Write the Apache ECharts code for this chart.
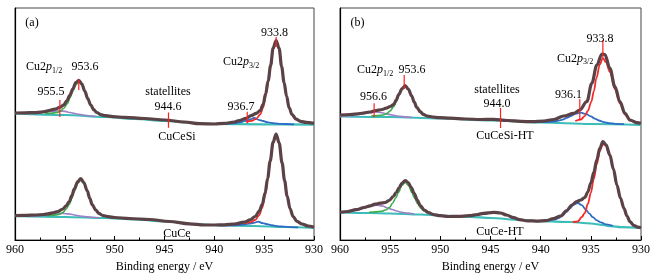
<!DOCTYPE html>
<html>
<head>
<meta charset="utf-8">
<script src="https://cdn.jsdelivr.net/npm/echarts/dist/echarts.min.js"></script>
<style>
  html, body { margin: 0; padding: 0; background: #fff; }
  #main { width: 655px; height: 280px; }
</style>
</head>
<body>
<div id="main"></div>
<script>
// x = binding energy (eV), y = intensity (a.u., spectra stacked)
// panel (a), upper spectrum: CuCeSi
const aSiBg = [[960,126.5],[955,125],[951,123],[948,121],[945,119],[942,117],[940,116],[935,115.7],[930,115.3]];
const aSiEnv = [[960,127],[959,127.2],[958,127.4],[957.4,127.9],[957,128.5],[956.6,129.5],[956,130.8],[955.5,132.6],[955.1,135.2],[954.8,139.2],[954.5,144.6],[954.2,151],[953.9,157.4],[953.6,159.7],[953.3,156.2],[953,149],[952.7,141.3],[952.4,135],[952.1,130.3],[951.8,127.5],[951.4,125.4],[950.9,124.3],[950.2,123.4],[949,122.6],[947,121.5],[945,120],[943,118],[941.5,116.3],[940,116],[939,116.6],[938,118],[937.5,119.5],[936.8,121.7],[936.25,124.6],[935.8,126.6],[935.4,129.5],[935.1,135.6],[934.85,146.3],[934.6,159.2],[934.35,174.6],[934.1,192],[933.8,199.5],[933.5,191.6],[933.25,173.5],[933,157.5],[932.75,143.8],[932.5,132.3],[932.2,125.4],[931.8,120.9],[931.35,118.7],[930.8,117.6],[930,116.7]];
const aSiRed = [[936.8,118.1],[936.25,119.1],[935.8,121.2],[935.4,125.5],[935.1,132.3],[934.85,143.8],[934.6,157.3],[934.35,173.2],[934.1,191],[933.8,198.7],[933.5,191],[933.25,173.1],[933,157.2],[932.75,143.6],[932.5,132.1],[932.2,125.3],[931.8,120.9],[931.35,118.7],[930.8,117.6],[930,116.7]];
const aSiBlue = [[940,116.2],[939.2,116.2],[938.6,116.3],[938.1,116.7],[937.7,117.2],[937.3,118],[936.9,119.05],[936.45,120.3],[936,122.2],[935.55,120.2],[935.1,119],[934.7,117.9],[934.3,117.1],[933.85,116.6],[933.4,116.2],[932.8,116],[932,115.7]];
const aSiGreen = [[957,126.5],[956.35,126.8],[955.8,127.5],[955.4,129.1],[955.1,131.8],[954.75,136.4],[954.5,141.75],[954.25,148.1],[953.9,155.3],[953.6,158.3],[953.3,155],[952.95,147.5],[952.7,140.85],[952.45,135.2],[952.1,130.35],[951.8,127.4],[951.4,125.4],[950.85,124.3],[950.2,123.4]];
const aSiPurple = [[959.2,126.4],[958.5,126.5],[958,126.7],[957.45,127.1],[957,127.6],[956.55,128.2],[956,128.9],[955.5,129.15],[955,128.6],[954.45,127.5],[954,126.5],[953.55,125.6],[953,124.8],[952.5,124.2],[951.8,123.5]];

// panel (a), lower spectrum: CuCe
const aBg = [[960,24],[955,23],[951,22],[948,20.5],[945,18.5],[942,16],[939,14.5],[936,14],[933,13],[930,12]];
const aEnv = [[960,24.3],[959,24.6],[958,25],[957.1,25.5],[956.7,26.2],[956.25,27.1],[955.7,28.5],[955.2,31],[954.9,33.8],[954.55,38.5],[954.3,44.3],[954.05,51.1],[953.7,58.4],[953.4,61.4],[953.1,57.5],[952.75,49.1],[952.5,41.7],[952.25,35.3],[951.9,30],[951.6,26.7],[951.2,24.5],[950.65,23.3],[950,22.5],[948.5,21.5],[946.5,20.5],[944.5,18.5],[942.5,16.2],[941,15],[940,15],[939,15.2],[938,16],[937,17.8],[936.4,20.2],[935.9,23.5],[935.5,28.8],[935.2,35.3],[934.9,47.2],[934.65,61.7],[934.4,78.9],[934.1,98],[933.8,106],[933.5,97.2],[933.2,77.2],[932.95,59.3],[932.7,44.1],[932.4,31.2],[932.1,23.5],[931.7,18.6],[931.2,16],[930.6,14],[930,12.8]];
const aRed = [[937,16.7],[936.4,17.7],[935.9,20],[935.5,24.7],[935.2,32.1],[934.9,44.7],[934.65,59.6],[934.4,77.2],[934.1,96.8],[933.8,105.3],[933.5,96.6],[933.2,76.8],[932.95,59],[932.7,43.9],[932.4,31.1],[932.1,23.5],[931.7,18.6],[931.2,16],[930.6,14],[930,12.8]];
const aBlue = [[939.6,14.7],[938.8,14.6],[938.2,14.65],[937.75,14.8],[937.3,15.1],[936.9,15.65],[936.5,16.35],[936.05,17.1],[935.6,18.4],[935.15,16.8],[934.7,15.8],[934.3,14.95],[933.9,14.2],[933.45,13.7],[933,13.3],[932.4,12.9],[931.6,12.6]];
const aGreen = [[956.8,24.4],[956.15,24.7],[955.6,25.5],[955.2,27.45],[954.9,30.5],[954.55,35.5],[954.3,41.6],[954.05,48.7],[953.7,56.7],[953.4,60.1],[953.1,56.5],[952.75,48.4],[952.5,41.1],[952.25,34.9],[951.9,29.7],[951.6,26.55],[951.2,24.45],[950.65,23.3],[950,22.5]];
const aPurple = [[958.9,23.9],[958.2,24.05],[957.7,24.23],[957.15,24.6],[956.7,25.1],[956.25,25.67],[955.75,26.3],[955.2,26.55],[954.65,26.1],[954.15,25.2],[953.7,24.4],[953.25,23.75],[952.75,23.1],[952.2,22.7],[951.5,22.2]];

// panel (b), upper spectrum: CuCeSi-HT
const bSiBg = [[960,123.5],[955,123],[950,121.5],[945,119.5],[940,117.5],[935,116],[930,115]];
const bSiEnv = [[960,125],[959,125.5],[958,126.5],[957,128],[956.4,129.5],[955.8,130.5],[955.4,131.8],[955,133.5],[954.65,135.5],[954.4,139.8],[954.15,145.4],[953.8,151.5],[953.5,154.5],[953.2,151],[952.85,144],[952.6,137.9],[952.35,132.7],[952,128.3],[951.7,125.6],[951.3,123.9],[950.75,123],[950.1,122.3],[949,121.8],[947.5,121],[946,120.5],[944.7,120.7],[943.3,119.5],[942,118.6],[940.8,118.3],[939.7,119],[938.7,120.5],[937.7,124],[936.7,126.7],[936.1,130],[935.4,138.3],[934.9,156.7],[934.4,175],[933.9,186],[933.6,185.5],[933.1,171.7],[932.6,153.3],[932.1,138.3],[931.6,126.7],[931.1,120],[930.4,117.3],[930,116.7]];
const bSiRed = [[936.55,119],[936,120.5],[935.6,123.8],[935.3,129.1],[934.95,138.15],[934.7,148.9],[934.45,161.55],[934.1,175.6],[933.8,182],[933.5,178],[933.1,168],[932.6,151],[932.1,136.5],[931.6,125.5],[931.1,119.5],[930.4,117]];
const bSiBlue = [[940.3,118],[939.45,118],[938.8,118.3],[938.3,119.1],[937.8,120.4],[937.4,122.05],[937,124],[936.5,126.3],[936,127.3],[935.5,126.1],[935,123.6],[934.6,121.4],[934.2,119.5],[933.7,117.9],[933.2,116.9],[932.55,116.2],[931.7,115.8]];
const bSiGreen = [[956.9,124],[956.25,124.35],[955.7,125.05],[955.3,126.66],[955,129.16],[954.65,133.35],[954.4,138.3],[954.15,144.2],[953.8,150.75],[953.5,153.55],[953.2,150.55],[952.85,143.8],[952.6,137.8],[952.35,132.65],[952,128.3],[951.7,125.6],[951.3,123.9],[950.75,122.95],[950.1,122.3]];
const bSiPurple = [[960,123.65],[959.5,124],[958.95,124.35],[958.45,124.94],[958,125.7],[957.55,126.56],[957,127.55],[956.5,127.95],[955.95,127.45],[955.45,126.34],[955,125.4],[954.55,124.47],[954,123.65],[953.5,123.1],[952.8,122.46]];

// panel (b), lower spectrum: CuCe-HT
const bBg = [[960,27.5],[957,27],[955,26.5],[952,25.5],[950,24.5],[947,23.2],[945,22],[942,20],[940,18.8],[937,18],[935,16.5],[933.8,15],[933,13.8],[932,12.8],[930,12]];
const bEnv = [[960,27.7],[959.2,28.5],[958.4,30.3],[957.6,32.5],[957,34.2],[956.5,35.8],[956,36.8],[955.5,37.5],[955.1,39.5],[954.7,43.5],[954.4,47.5],[954.1,52.5],[953.8,57],[953.5,59.5],[953.2,57.5],[952.9,52.5],[952.6,46.5],[952.3,40],[952,34.5],[951.6,30],[951.2,27.5],[950.7,25.5],[950,24.3],[949.2,23.5],[948.2,23.6],[947.1,24.3],[946.3,25.5],[945.7,26.7],[944.7,27.7],[944,27],[943.4,25],[942.7,22.3],[942.1,20.3],[941.3,19.2],[940.4,18.9],[939.5,19.3],[938.7,21.5],[938,24],[937.4,29.5],[936.9,35],[936.4,38.5],[936,40],[935.6,42.5],[935.3,48],[935,57],[934.7,68],[934.4,80.5],[934.1,92],[933.8,98.3],[933.5,95.5],[933.1,85],[932.75,71],[932.4,55],[932.05,42],[931.7,31.7],[931.4,24],[931.1,18.3],[930.7,14.5],[930.3,12.8],[930,12.3]];
const bRed = [[936.8,18],[936.3,18.5],[935.9,23],[935.6,27],[935.3,36],[935,47],[934.7,61],[934.4,76],[934.1,89],[933.8,96],[933.5,94.2],[933.1,84],[932.75,70.5],[932.4,54.6],[932.05,41.8],[931.7,31.6],[931.4,24],[931.1,18.3],[930.7,14.5],[930.3,12.8],[930,12.3]];
const bBlue = [[939.8,19.2],[939.15,19.6],[938.6,20.5],[938.2,22],[937.8,24.8],[937.45,27.8],[937.1,31.5],[936.7,35.5],[936.3,37],[935.9,34.9],[935.5,30.4],[935.15,26.35],[934.8,22.8],[934.4,19.65],[934,17.55],[933.45,15.6],[932.8,14.1]];
const bGreen = [[957.1,27.8],[956.4,28.1],[955.85,28.75],[955.4,30.3],[955.05,32.8],[954.75,37],[954.45,42.05],[954.15,48],[953.85,54.6],[953.5,57.5],[953.15,54.4],[952.85,47.55],[952.55,41.45],[952.25,36.2],[951.95,31.75],[951.6,29],[951.15,27.15],[950.6,25.2],[949.9,24.6]];
const bPurple = [[960,27.7],[959.3,28.3],[958.75,28.9],[958.25,29.9],[957.8,31.15],[957.35,32.55],[956.85,34.2],[956.3,34.8],[955.75,33.95],[955.25,32.05],[954.8,30.45],[954.35,29],[953.85,27.7],[953.3,26.9],[952.6,25.9]];

// red marker ticks: [energy, top, bottom]
const ticksA = [[955.5,140,123],[953.6,160.5,150],[944.6,127.5,112.3],[936.7,128.3,116.7],[933.8,203,193]];
const ticksB = [[956.6,136.7,122.7],[953.6,165,151],[944.0,132,112],[936.1,141,120],[933.8,200,183]];

const energyTicks = [960, 955, 950, 945, 940, 935, 930];
const xTitle = 'Binding energy / eV';
const samplesA = ['CuCeSi', 'CuCe'];
const samplesB = ['CuCeSi-HT', 'CuCe-HT'];
const peaksA = ['955.5', '953.6', '944.6', '936.7', '933.8'];
const peaksB = ['956.6', '953.6', '944.0', '936.1', '933.8'];

const FONT = '"Liberation Serif", "Times New Roman", serif';
const C = {
  env: '#5b4246', red: '#f22a2a', blue: '#2e6cc4', green: '#3dae4a',
  purple: '#9c82c6', bg: '#3dbdb9', tick: '#ff2020'
};

var chart = echarts.init(document.getElementById('main'), null, { renderer: 'canvas' });

function line(data, color, width, idx, z) {
  return {
    type: 'line', xAxisIndex: idx, yAxisIndex: idx, data: data,
    showSymbol: false, symbol: 'none', smooth: 0.35, smoothMonotone: 'x',
    lineStyle: { color: color, width: width }, z: z, silent: true, animation: false
  };
}

function spectrum(s, idx) {
  return [
    line(s.bg, C.bg, 2.2, idx, 2),
    line(s.purple, C.purple, 1.6, idx, 3),
    line(s.green, C.green, 1.6, idx, 3),
    line(s.blue, C.blue, 1.8, idx, 3),
    line(s.red, C.red, 1.8, idx, 3),
    line(s.env, C.env, 3.2, idx, 4)
  ];
}

function tickSeries(ticks, idx) {
  return ticks.map(t => line([[t[0], t[1]], [t[0], t[2]]], C.tick, 1.2, idx, 6));
}

function xAxis(idx) {
  return {
    gridIndex: idx, type: 'value', min: 930, max: 960, interval: 5, inverse: true,
    axisLine: { show: true, onZero: false, lineStyle: { color: '#000', width: 1.2 } },
    axisTick: { show: true, inside: true, length: 4, lineStyle: { color: '#000' } },
    minorTick: { show: true, splitNumber: 2, length: 2.5, lineStyle: { color: '#000' } },
    axisLabel: { color: '#000', fontFamily: FONT, fontSize: 12, margin: 4,
      formatter: v => energyTicks.indexOf(v) >= 0 ? String(v) : '' },
    splitLine: { show: false },
    name: xTitle, nameLocation: 'middle', nameGap: 14,
    nameTextStyle: { color: '#000', fontFamily: FONT, fontSize: 12 }
  };
}

function yAxis(idx) {
  return {
    gridIndex: idx, type: 'value', min: 0, max: 232,
    axisLine: { show: true, lineStyle: { color: '#000', width: 1.2 } },
    axisTick: { show: false }, axisLabel: { show: false }, splitLine: { show: false }
  };
}

function txt(text, x, y, align) {
  return { type: 'text', x: x, y: y, silent: true, z: 10,
    style: { text: text, fill: '#000', font: '12px ' + FONT, align: align || 'center', verticalAlign: 'middle' } };
}

function cu2p(sub, x, y) {
  return { type: 'text', x: x, y: y, silent: true, z: 10,
    style: {
      text: '{n|Cu2}{i|p}{s|' + sub + '}', fill: '#000', align: 'left', verticalAlign: 'middle',
      rich: {
        n: { fontFamily: FONT, fontSize: 12, fill: '#000' },
        i: { fontFamily: FONT, fontSize: 12, fontStyle: 'italic', fill: '#000' },
        s: { fontFamily: FONT, fontSize: 8, fill: '#000', padding: [7, 0, 0, 0] }
      }
    } };
}

const series = [].concat(
  spectrum({ bg: aSiBg, env: aSiEnv, red: aSiRed, blue: aSiBlue, green: aSiGreen, purple: aSiPurple }, 0),
  spectrum({ bg: aBg, env: aEnv, red: aRed, blue: aBlue, green: aGreen, purple: aPurple }, 0),
  spectrum({ bg: bSiBg, env: bSiEnv, red: bSiRed, blue: bSiBlue, green: bSiGreen, purple: bSiPurple }, 1),
  spectrum({ bg: bBg, env: bEnv, red: bRed, blue: bBlue, green: bGreen, purple: bPurple }, 1),
  tickSeries(ticksA, 0),
  tickSeries(ticksB, 1)
);

var option = {
  animation: false,
  backgroundColor: '#fff',
  grid: [
    { left: 15, top: 8, width: 299, height: 232, show: true, borderColor: '#444', borderWidth: 1 },
    { left: 340, top: 8, width: 301, height: 232, show: true, borderColor: '#444', borderWidth: 1 }
  ],
  xAxis: [xAxis(0), xAxis(1)],
  yAxis: [yAxis(0), yAxis(1)],
  series: series,
  graphic: [
    txt('(a)', 32, 23),
    cu2p('1/2', 26, 67),
    txt(peaksA[1], 85, 67),
    txt(peaksA[0], 51, 92),
    txt('statellites', 168, 92),
    txt(peaksA[2], 168, 107),
    txt(peaksA[3], 241, 107),
    cu2p('3/2', 223, 62),
    txt(peaksA[4], 274.5, 33),
    txt(samplesA[0], 177, 137),
    txt(samplesA[1], 177, 234),

    txt('(b)', 357.5, 23),
    cu2p('1/2', 357, 70),
    txt(peaksB[1], 412, 70),
    txt(peaksB[0], 373.5, 96.5),
    txt('statellites', 497, 90),
    txt(peaksB[2], 497, 103.5),
    txt(peaksB[3], 568.5, 95),
    cu2p('3/2', 557, 58.5),
    txt(peaksB[4], 600, 38.5),
    txt(samplesB[0], 505, 136),
    txt(samplesB[1], 500, 232)
  ]
};

chart.setOption(option);
</script>
</body>
</html>
